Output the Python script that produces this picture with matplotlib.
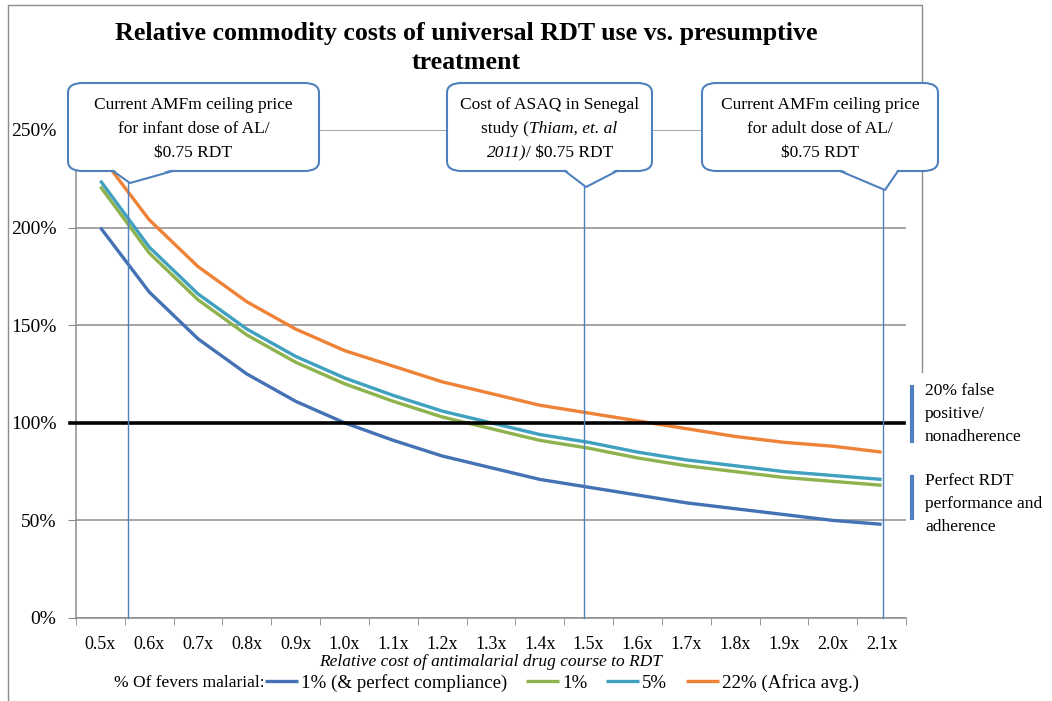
import matplotlib
matplotlib.use('Agg')
import matplotlib.pyplot as plt
from matplotlib.patches import FancyBboxPatch, Polygon
from matplotlib.lines import Line2D

plt.rcParams['font.family'] = ['Liberation Serif', 'DejaVu Serif']

W, H = 1052, 701

# data
cost_labels = ['0.5x', '0.6x', '0.7x', '0.8x', '0.9x', '1.0x', '1.1x', '1.2x', '1.3x',
               '1.4x', '1.5x', '1.6x', '1.7x', '1.8x', '1.9x', '2.0x', '2.1x']
perfect_1 = [2.00, 1.67, 1.43, 1.25, 1.11, 1.00, 0.91, 0.83, 0.77, 0.71, 0.67, 0.63, 0.59, 0.56, 0.53, 0.50, 0.48]
fevers_1 = [2.21, 1.87, 1.63, 1.45, 1.31, 1.20, 1.11, 1.03, 0.97, 0.91, 0.87, 0.82, 0.78, 0.75, 0.72, 0.70, 0.68]
fevers_5 = [2.24, 1.90, 1.66, 1.48, 1.34, 1.23, 1.14, 1.06, 1.00, 0.94, 0.90, 0.85, 0.81, 0.78, 0.75, 0.73, 0.71]
fevers_22 = [2.37, 2.04, 1.80, 1.62, 1.48, 1.37, 1.29, 1.21, 1.15, 1.09, 1.05, 1.01, 0.97, 0.93, 0.90, 0.88, 0.85]
series_names = ['1% (& perfect compliance)', '1%', '5%', '22% (Africa avg.)']
series_colors = ['#4472B4', '#8DB24E', '#3FA0BF', '#EE8236']

# reference costs marked by callouts (relative cost) and tip heights
ref_costs = [0.556, 1.491, 2.103]
ref_tops = [2.23, 2.21, 2.20]
callout_texts = ['Current AMFm ceiling price\nfor infant dose of AL/\n$0.75 RDT',
                 None,
                 'Current AMFm ceiling price\nfor adult dose of AL/\n$0.75 RDT']


def fx(x):
    return x / W


def fy(y):
    return 1 - y / H


fig = plt.figure(figsize=(W / 100, H / 100), dpi=100)
ax = fig.add_axes([fx(76), fy(618), fx(906) - fx(76), fy(130) - fy(618)])

xs = list(range(len(cost_labels)))
for vals, name, col in zip([perfect_1, fevers_1, fevers_5, fevers_22], series_names, series_colors):
    ax.plot(xs, vals, color=col, lw=2.4, label=name, zorder=3, solid_capstyle='butt')

ax.set_xlim(-0.5, len(cost_labels) - 0.5)
ax.set_ylim(0, 2.5)
ax.set_yticks([0, 0.5, 1.0, 1.5, 2.0, 2.5])
ax.set_yticklabels(['0%', '50%', '100%', '150%', '200%', '250%'], fontsize=14)
ax.set_xticks(xs)
ax.set_xticklabels(cost_labels, fontsize=13)
ax.set_xticks([i - 0.5 for i in range(len(cost_labels) + 1)], minor=True)
ax.tick_params(axis='x', which='major', length=0, pad=13)
ax.tick_params(axis='x', which='minor', length=5, color='#888888')
ax.tick_params(axis='y', length=6, color='#888888', pad=8)
ax.grid(axis='y', color='#8c8c8c', lw=1.1)
ax.set_axisbelow(True)
for s in ['top', 'right']:
    ax.spines[s].set_visible(False)
for s in ['left', 'bottom']:
    ax.spines[s].set_color('#8c8c8c')
    ax.spines[s].set_linewidth(1.1)

ax.set_xlabel('Relative cost of antimalarial drug course to RDT', fontstyle='italic',
              fontsize=12.5, labelpad=1)

# 100% break-even line
ax.plot([-0.007, 0.997], [1, 1], color='black', lw=2.6, zorder=4,
        transform=ax.get_yaxis_transform(), clip_on=False)

# vertical reference lines
for c, top in zip(ref_costs, ref_tops):
    xi = (c - 0.5) / 0.1
    ax.plot([xi, xi], [0, top], color='#4F81BD', lw=1.0, zorder=5, clip_on=False)

# chart area border (partial)
fig.add_artist(Line2D([fx(922), fx(922), fx(8), fx(8)], [fy(372), fy(5), fy(5), fy(700)],
                      color='#8c8c8c', lw=1.0))

fig.text(fx(466), fy(48), 'Relative commodity costs of universal RDT use vs. presumptive\ntreatment',
         ha='center', va='center', fontsize=18.7, fontweight='bold', linespacing=1.3)


def callout(x0, x1, y0, y1, bl, br, tip, text=None):
    box = FancyBboxPatch((fx(x0), fy(y1)), fx(x1) - fx(x0), fy(y0) - fy(y1),
                         boxstyle='round,pad=0,rounding_size=0.014',
                         transform=fig.transFigure, facecolor='white',
                         edgecolor='#4F81BD', lw=1.5, zorder=10)
    fig.add_artist(box)
    cover = Polygon([(fx(bl), fy(y1 - 2)), (fx(br), fy(y1 - 2)), (fx(tip[0]), fy(tip[1]))],
                    closed=True, transform=fig.transFigure, facecolor='white',
                    edgecolor='none', zorder=11)
    fig.add_artist(cover)
    fig.add_artist(Line2D([fx(bl), fx(tip[0]), fx(br)], [fy(y1), fy(tip[1]), fy(y1)],
                          color='#4F81BD', lw=1.5, zorder=12))
    if text is not None:
        fig.text(fx((x0 + x1) / 2), fy(129), text, ha='center', va='center',
                 fontsize=12.5, linespacing=1.65, zorder=13)


callout(68, 319, 83, 171, 113, 173, (130, 183), callout_texts[0])
callout(447, 652, 83, 171, 565, 617, (586, 187))
fig.text(fx(549.5), fy(105), 'Cost of ASAQ in Senegal', ha='center', va='center',
         fontsize=12.5, zorder=13)
fig.text(fx(529), fy(129), 'study (', ha='right', va='center', fontsize=12.5, zorder=13)
fig.text(fx(529), fy(129), 'Thiam, et. al', ha='left', va='center', fontsize=12.5,
         fontstyle='italic', zorder=13)
fig.text(fx(526), fy(153), '2011)', ha='right', va='center', fontsize=12.5,
         fontstyle='italic', zorder=13)
fig.text(fx(526), fy(153), '/ $0.75 RDT', ha='left', va='center', fontsize=12.5, zorder=13)
callout(702, 938, 83, 171, 840, 898, (885, 190), callout_texts[2])

# right side notes
fig.add_artist(Line2D([fx(912), fx(912)], [fy(387), fy(441)], color='#4F81BD', lw=3))
fig.add_artist(Line2D([fx(912), fx(912)], [fy(477), fy(518)], color='#4F81BD', lw=3))
fig.text(fx(925), fy(414), '20% false\npositive/\nnonadherence', ha='left', va='center',
         fontsize=12.5, linespacing=1.62)
fig.text(fx(925), fy(504), 'Perfect RDT\nperformance and\nadherence', ha='left', va='center',
         fontsize=12.5, linespacing=1.62)

# legend
fig.text(fx(265), fy(683), '% Of fevers malarial:', ha='right', va='center', fontsize=12.5)
fig.legend(loc='center left', bbox_to_anchor=(fx(265), fy(683)), ncol=4, frameon=False,
           fontsize=13.6, handlelength=1.75, handletextpad=0.15, columnspacing=1.0,
           borderpad=0, borderaxespad=0)

fig.savefig('out.png', dpi=100)
